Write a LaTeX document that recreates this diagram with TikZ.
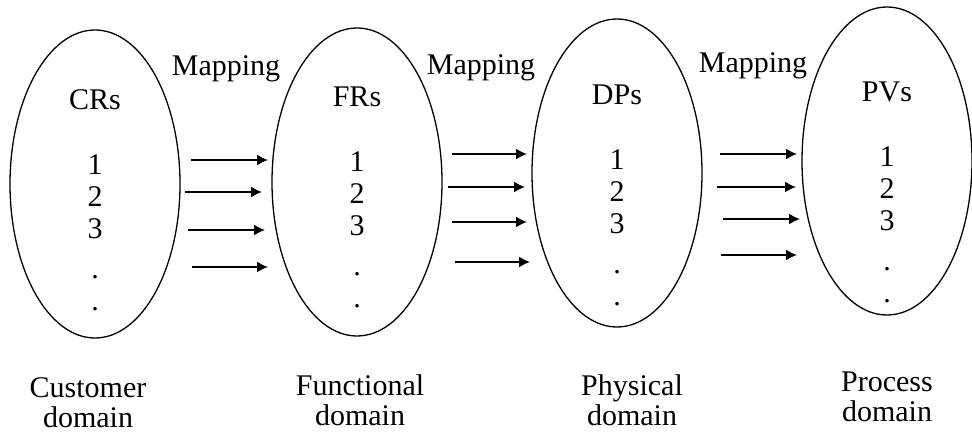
\documentclass[tikz,border=0pt]{standalone}
\usepackage{fontspec}
\setmainfont{Liberation Serif}
\usetikzlibrary{shapes.geometric,arrows.meta}

\begin{document}
\begin{tikzpicture}[x=1pt,y=1pt,node distance=262pt]
    \tikzstyle{every node}=[font=\fontsize{30}{32}\selectfont]
    \tikzstyle{domainbox}=[
        draw,
        shape=ellipse,
        line width=1.3pt,
        inner sep=0pt,
        minimum width=170pt,
        minimum height=308pt]
    \tikzstyle{itemlist}=[align=center, inner sep=0pt, anchor=north]
    \tikzstyle{domlabel}=[align=center, inner sep=0pt, anchor=north,
        font=\fontsize{30}{30}\selectfont]
    \tikzstyle{maparrow}=[-{Latex[length=11pt,width=11pt]}, line width=1.7pt]

    \useasboundingbox (0,0) rectangle (972,434);
    \node[domainbox] (cr) at (95,250) {};
    \node[domainbox, right of=cr, yshift=2pt] (fr) {};
    \node[domainbox, right of=fr, xshift=-2pt, yshift=9pt] (dp) {};
    \node[domainbox, right of=dp, xshift=8pt, yshift=12pt] (pv) {};

    \newcommand{\lst}[1]{#1\\[33pt]1\\2\\3\\[8pt].\\.}
    \node[itemlist] (crl) at ([yshift=95pt]cr.center) {\lst{CRs}};
    \node[itemlist] (frl) at ([yshift=95pt]fr.center) {\lst{FRs}};
    \node[itemlist] (dpl) at ([yshift=88pt]dp.center) {\lst{DPs}};
    \node[itemlist] (pvl) at ([yshift=79pt]pv.center) {\lst{PVs}};

    \node[inner sep=0pt] (m1) at (226,365) {Mapping};
    \node[inner sep=0pt] (m2) at (481,366) {Mapping};
    \node[inner sep=0pt] (m3) at (753,368) {Mapping};

    \foreach \n/\xa/\xb/\y in {a1/191/268/274, a2/185/262/242, a3/188/265/204, a4/192/268/167,
                              b1/452/527/280, b2/448/525/247, b3/452/527/212, b4/455/530/172,
                              c1/720/797/280, c2/717/796/247, c3/723/800/215, c4/721/797/179} {
        \coordinate (\n s) at (\xa,\y);
        \coordinate (\n e) at (\xb,\y);
        \draw[maparrow] (\n s) -- (\n e);
    }

    \node[domlabel] (cd) at (88,57) {Customer\\domain};
    \node[domlabel] (fd) at (360,60) {Functional\\domain};
    \node[domlabel] (pd) at (632,60) {Physical\\domain};
    \node[domlabel] (prd) at (887,62) {Process\\domain};
\end{tikzpicture}
\end{document}
